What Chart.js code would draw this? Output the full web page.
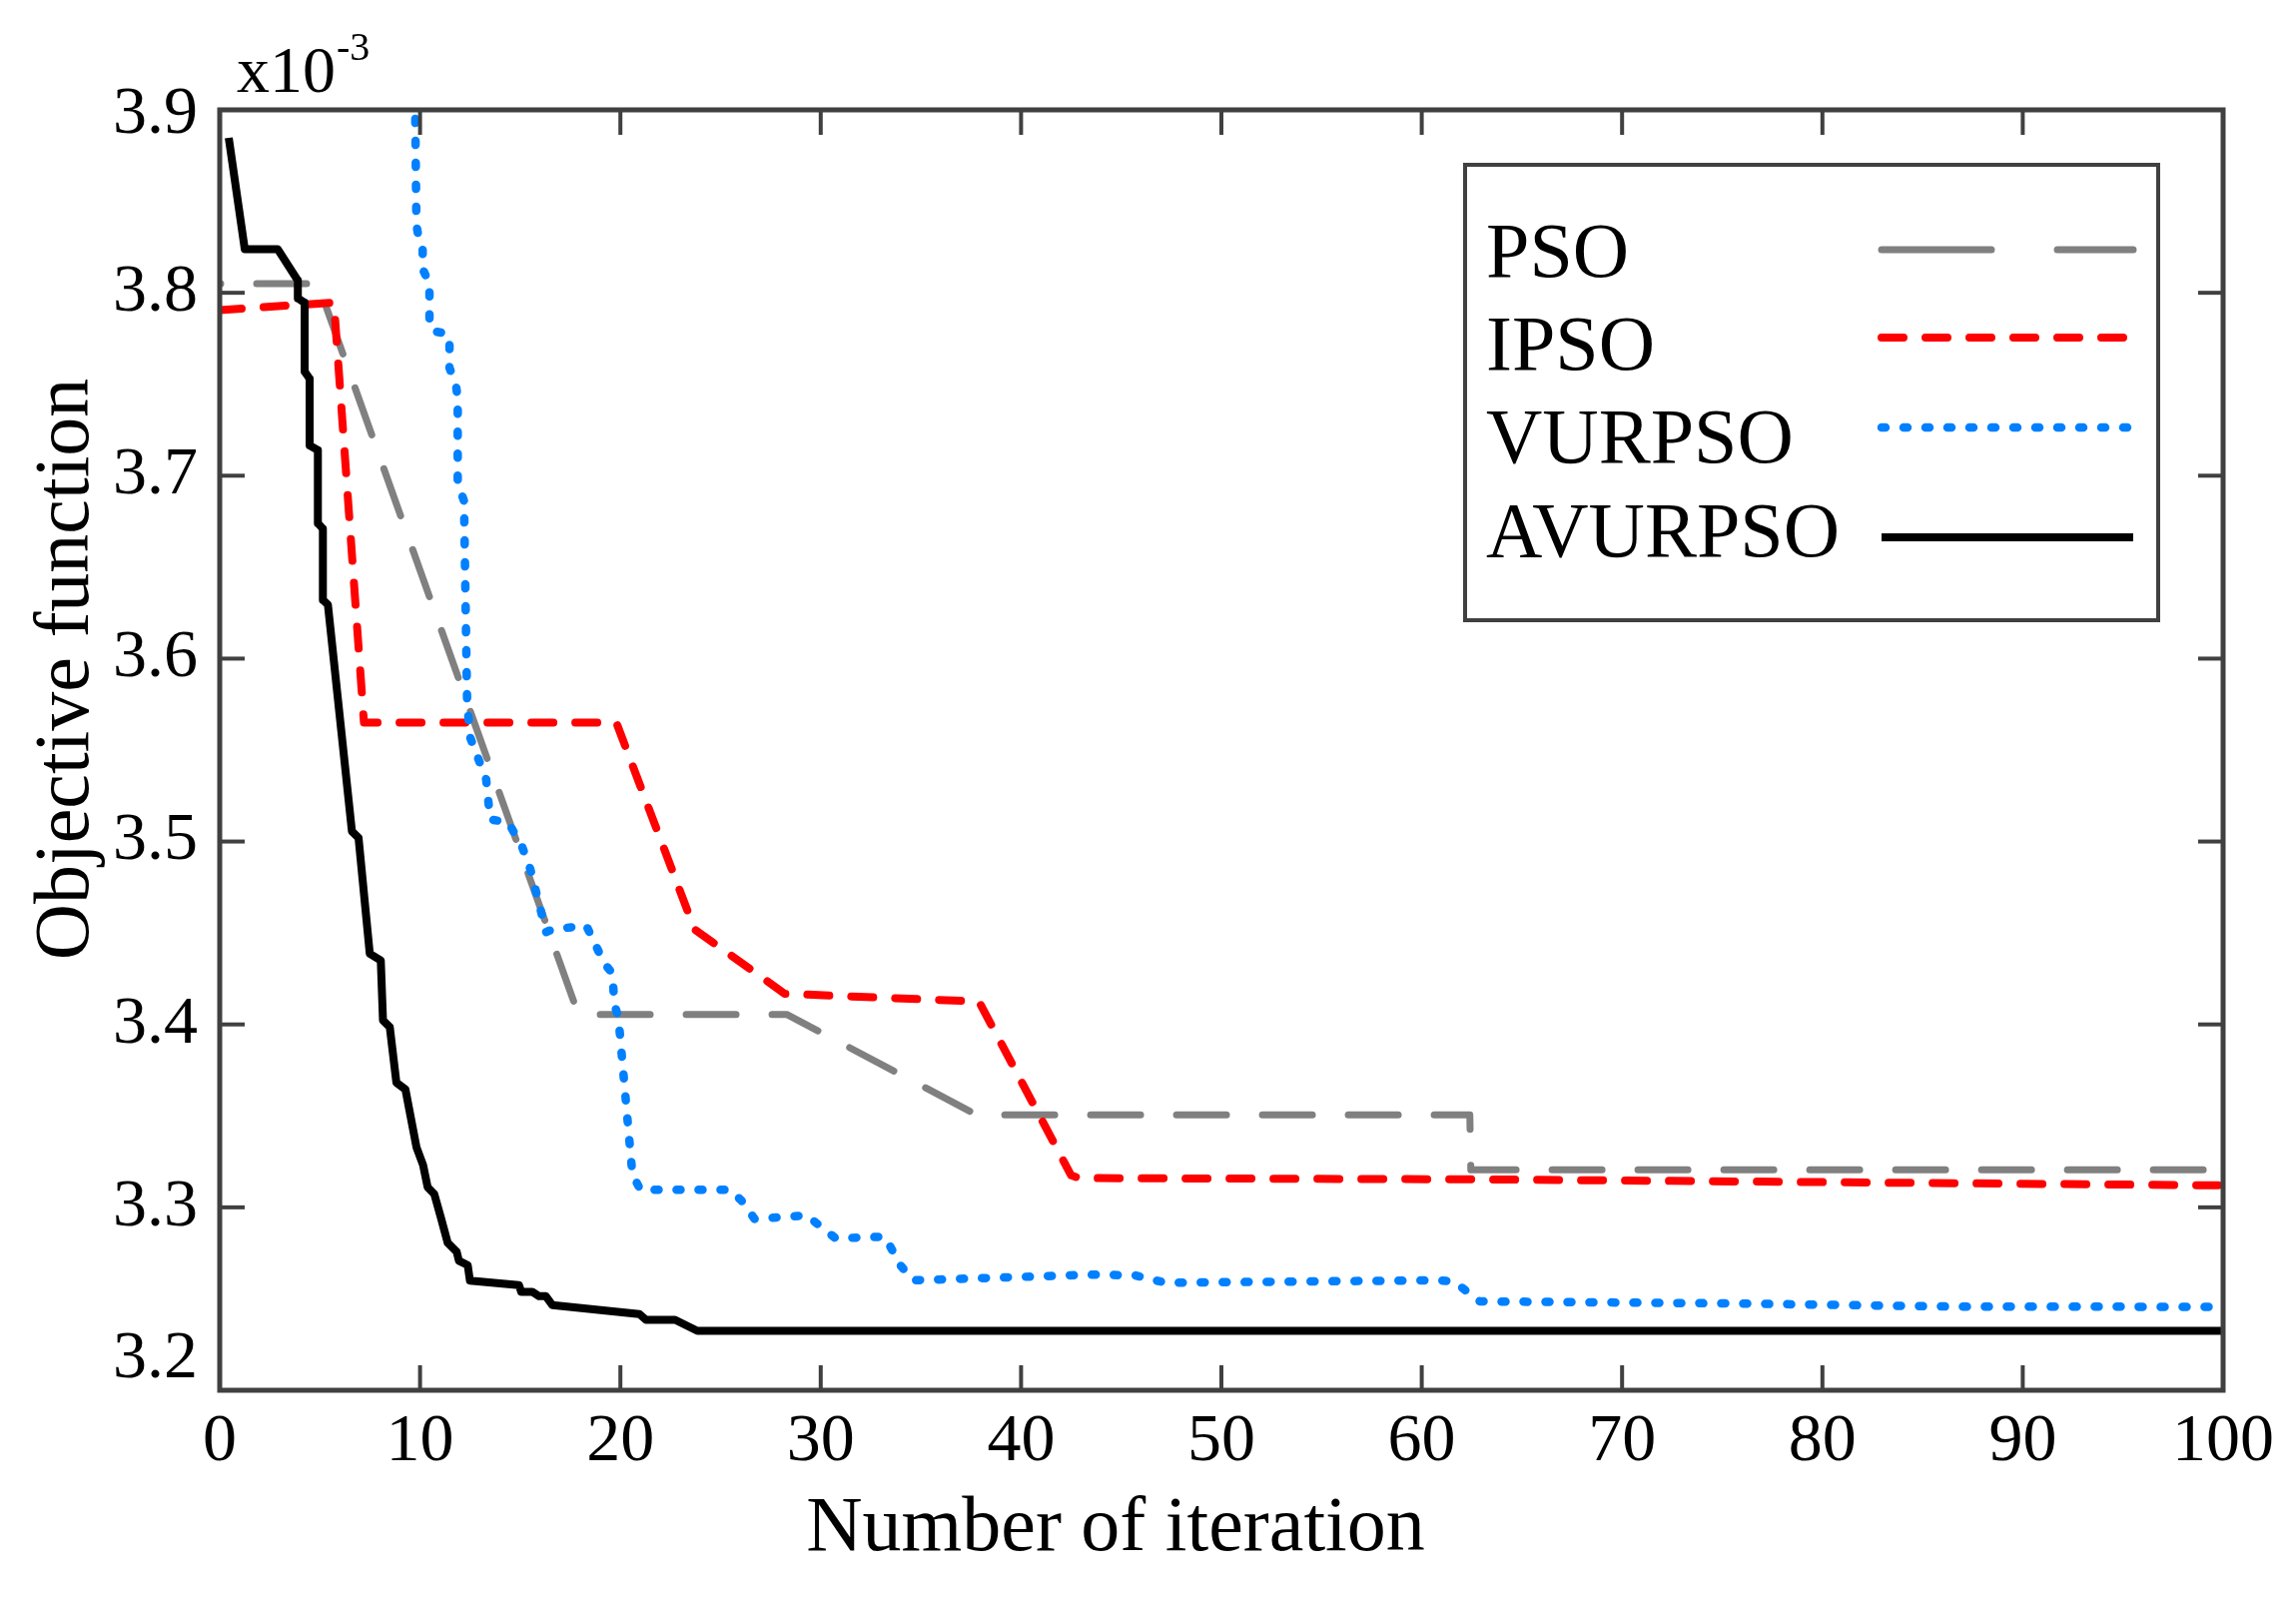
<!DOCTYPE html>
<html>
<head>
<meta charset="utf-8">
<title>Objective function vs iteration</title>
<script src="https://cdn.jsdelivr.net/npm/chart.js@4.4.1/dist/chart.umd.min.js"></script>
<style>
  html, body { margin: 0; padding: 0; background: #fff; }
  #wrap { width: 2299px; height: 1603px; }
</style>
</head>
<body>
<div id="wrap"><canvas id="chart" width="2299" height="1603"></canvas></div>
<script>
// objective values are in units of 1e-3 (the "x10^-3" on the axis)
const seriesNames = ["PSO", "IPSO", "VURPSO", "AVURPSO"];
const xTicks = [0, 10, 20, 30, 40, 50, 60, 70, 80, 90, 100];
const yTicks = [3.2, 3.3, 3.4, 3.5, 3.6, 3.7, 3.8, 3.9];

const psoX = [0, 4.9, 17.9, 28.3, 37.8, 62.4, 62.45, 100];
const psoY = [3.805, 3.805, 3.4055, 3.4055, 3.3505, 3.3505, 3.3205, 3.3205];

const ipsoX = [0, 5.7, 7.2, 19.8, 23.7, 28.2, 37.9, 42.5, 42.9, 63, 100];
const ipsoY = [3.7905, 3.7947, 3.565, 3.565, 3.452, 3.4168, 3.4125, 3.3175, 3.316, 3.3153, 3.312];

// first two points sit above the axis top and get clipped, like the original
const vurX = [0, 9.7, 9.82, 9.9, 10.13, 10.13, 10.47, 10.47, 10.63, 11.2, 11.47, 11.47, 11.8, 11.88, 11.88,
  12.2, 12.2, 12.35, 12.5, 13.3, 13.5, 14.4, 15.1, 15.5, 16.3, 16.6, 18.3, 19.2, 19.6, 19.7, 19.9, 20.6,
  21.0, 25.5, 26.05, 26.7, 29.3, 30.75, 33.2, 34.0, 34.6, 43.6, 45.7, 47.2, 60.8, 61.6, 62.9, 64, 76, 86, 100];
const vurY = [4.05, 3.96, 3.837, 3.832, 3.825, 3.813, 3.805, 3.784, 3.779, 3.778, 3.776, 3.759, 3.749, 3.742, 3.696,
  3.686, 3.682, 3.576, 3.557, 3.534, 3.512, 3.5106, 3.497, 3.485, 3.4505, 3.452, 3.454, 3.4333, 3.428, 3.411, 3.404, 3.318,
  3.3096, 3.3096, 3.3036, 3.2937, 3.2956, 3.283, 3.284, 3.268, 3.2601, 3.2632, 3.2628, 3.2588, 3.2601, 3.2595, 3.2486, 3.2485, 3.2474, 3.2458, 3.2456];

const avurX = [0.45, 1.25, 2.9, 3.9, 3.9, 4.24, 4.24, 4.49, 4.49, 4.9, 4.9, 5.15, 5.15, 5.4, 6.6, 6.93, 7.49, 8.04,
  8.15, 8.49, 8.82, 9.27, 9.82, 10.15, 10.38, 10.71, 11.05, 11.38, 11.83, 11.94, 12.38, 12.49, 14.94, 15.05, 15.6,
  15.94, 16.28, 16.61, 20.95, 21.28, 22.73, 23.84, 100];
const avurY = [3.8847, 3.8238, 3.8238, 3.8067, 3.797, 3.7946, 3.757, 3.753, 3.7165, 3.714, 3.674, 3.671, 3.632, 3.6295,
  3.5056, 3.502, 3.4387, 3.435, 3.4022, 3.3985, 3.3682, 3.3645, 3.3329, 3.3232, 3.311, 3.3073, 3.294, 3.2806, 3.2757,
  3.2708, 3.2684, 3.2599, 3.2575, 3.2538, 3.2538, 3.2514, 3.2514, 3.2465, 3.2416, 3.2385, 3.2385, 3.2325, 3.2325];

const colors = ["#808080", "#ff0000", "#0080ff", "#000000"];

function toPoints(xs, ys) {
  return xs.map((x, i) => ({ x: x, y: ys[i] }));
}

const FONT = "'Liberation Serif', 'Times New Roman', serif";
const AXIS = "#404040";

// line styles shared by the plot and the legend
const styles = [
  { width: 7, dash: [50, 36], offset: 49, legendDash: [110, 66] },
  { width: 8, dash: [22, 22], offset: 0, legendDash: [22, 22] },
  { width: 8.5, dash: [4, 18], offset: 0, legendDash: [4, 18] },
  { width: 8, dash: [], offset: 0, legendDash: [] }
];

// box with inward ticks, y labels, axis titles and the legend (MATLAB look)
const frame = {
  id: "frame",
  afterDraw(chart) {
    const ctx = chart.ctx;
    const a = chart.chartArea;
    const xs = chart.scales.x, ys = chart.scales.y;
    ctx.save();
    ctx.strokeStyle = AXIS;
    ctx.lineCap = "butt";
    ctx.lineWidth = 4;
    const seg = (x1, y1, x2, y2) => { ctx.beginPath(); ctx.moveTo(x1, y1); ctx.lineTo(x2, y2); ctx.stroke(); };
    xTicks.forEach(v => {
      if (v === xs.min || v === xs.max) return;
      const p = xs.getPixelForValue(v);
      seg(p, a.bottom, p, a.bottom - 25);
      seg(p, a.top, p, a.top + 25);
    });
    yTicks.forEach(v => {
      if (v <= ys.min + 1e-9 || v >= ys.max - 1e-9) return;
      const p = ys.getPixelForValue(v);
      seg(a.left, p, a.left + 25, p);
      seg(a.right, p, a.right - 25, p);
    });
    ctx.lineWidth = 5;
    ctx.strokeRect(a.left, a.top, a.right - a.left, a.bottom - a.top);

    // y tick labels (the lowest one sits a little above the corner, as in the original)
    ctx.fillStyle = "#000";
    ctx.font = "68px " + FONT;
    ctx.textAlign = "right";
    ctx.textBaseline = "middle";
    yTicks.forEach(v => {
      let p = ys.getPixelForValue(v);
      if (v <= ys.min + 1e-9) p -= 31;
      if (v >= ys.max - 1e-9) p += 5;
      ctx.fillText(v.toFixed(1), a.left - 22, p);
    });

    // axis titles
    ctx.textBaseline = "alphabetic";
    ctx.font = "78px " + FONT;
    ctx.textAlign = "center";
    ctx.fillText("Number of iteration", 1117, 1552);
    ctx.save();
    ctx.translate(88, 670);
    ctx.rotate(-Math.PI / 2);
    ctx.fillText("Objective function", 0, 0);
    ctx.restore();

    // exponent label
    ctx.textAlign = "left";
    ctx.font = "66px " + FONT;
    ctx.fillText("x10", 237, 92);
    ctx.font = "40px " + FONT;
    ctx.fillText("-3", 337, 60);

    // legend
    const box = { l: 1467, t: 165, r: 2161, b: 621 };
    ctx.fillStyle = "#fff";
    ctx.fillRect(box.l, box.t, box.r - box.l, box.b - box.t);
    ctx.strokeStyle = AXIS;
    ctx.lineWidth = 4;
    ctx.strokeRect(box.l, box.t, box.r - box.l, box.b - box.t);
    const baselines = [277, 370, 463, 557];
    const lineYs = [250, 338, 428, 538];
    ctx.font = "78px " + FONT;
    ctx.fillStyle = "#000";
    seriesNames.forEach((name, i) => {
      ctx.fillText(name, 1488, baselines[i]);
      ctx.strokeStyle = colors[i];
      ctx.lineWidth = styles[i].width;
      ctx.lineCap = i === 3 ? "butt" : "round";
      ctx.setLineDash(styles[i].legendDash);
      seg(1884, lineYs[i], 2136, lineYs[i]);
    });
    ctx.setLineDash([]);
    ctx.restore();
  }
};

const datasets = [
  [psoX, psoY], [ipsoX, ipsoY], [vurX, vurY], [avurX, avurY]
].map((d, i) => ({
  label: seriesNames[i],
  data: toPoints(d[0], d[1]),
  borderColor: colors[i],
  borderWidth: styles[i].width,
  borderDash: styles[i].dash,
  borderDashOffset: styles[i].offset,
  borderCapStyle: i === 3 ? "butt" : "round",
  borderJoinStyle: "round",
  pointRadius: 0,
  tension: 0,
  fill: false,
  order: 3 - i
}));

new Chart(document.getElementById("chart"), {
  type: "line",
  data: { datasets: datasets },
  options: {
    responsive: false,
    animation: false,
    devicePixelRatio: 1,
    layout: { padding: { top: 110, right: 73, left: 0, bottom: 0 } },
    plugins: { legend: { display: false }, tooltip: { enabled: false } },
    scales: {
      x: {
        type: "linear",
        min: 0,
        max: 100,
        afterBuildTicks: s => { s.ticks = xTicks.map(v => ({ value: v })); },
        afterFit: s => { s.height = 211; },
        grid: { display: false, drawTicks: false },
        border: { display: false },
        ticks: { font: { family: FONT, size: 68 }, color: "#000", padding: 11, maxRotation: 0, autoSkip: false }
      },
      y: {
        type: "linear",
        min: 3.2,
        max: 3.9,
        afterBuildTicks: s => { s.ticks = yTicks.map(v => ({ value: v })); },
        afterFit: s => { s.width = 220; },
        grid: { display: false, drawTicks: false },
        border: { display: false },
        ticks: { display: false }
      }
    }
  },
  plugins: [frame]
});
</script>
</body>
</html>
